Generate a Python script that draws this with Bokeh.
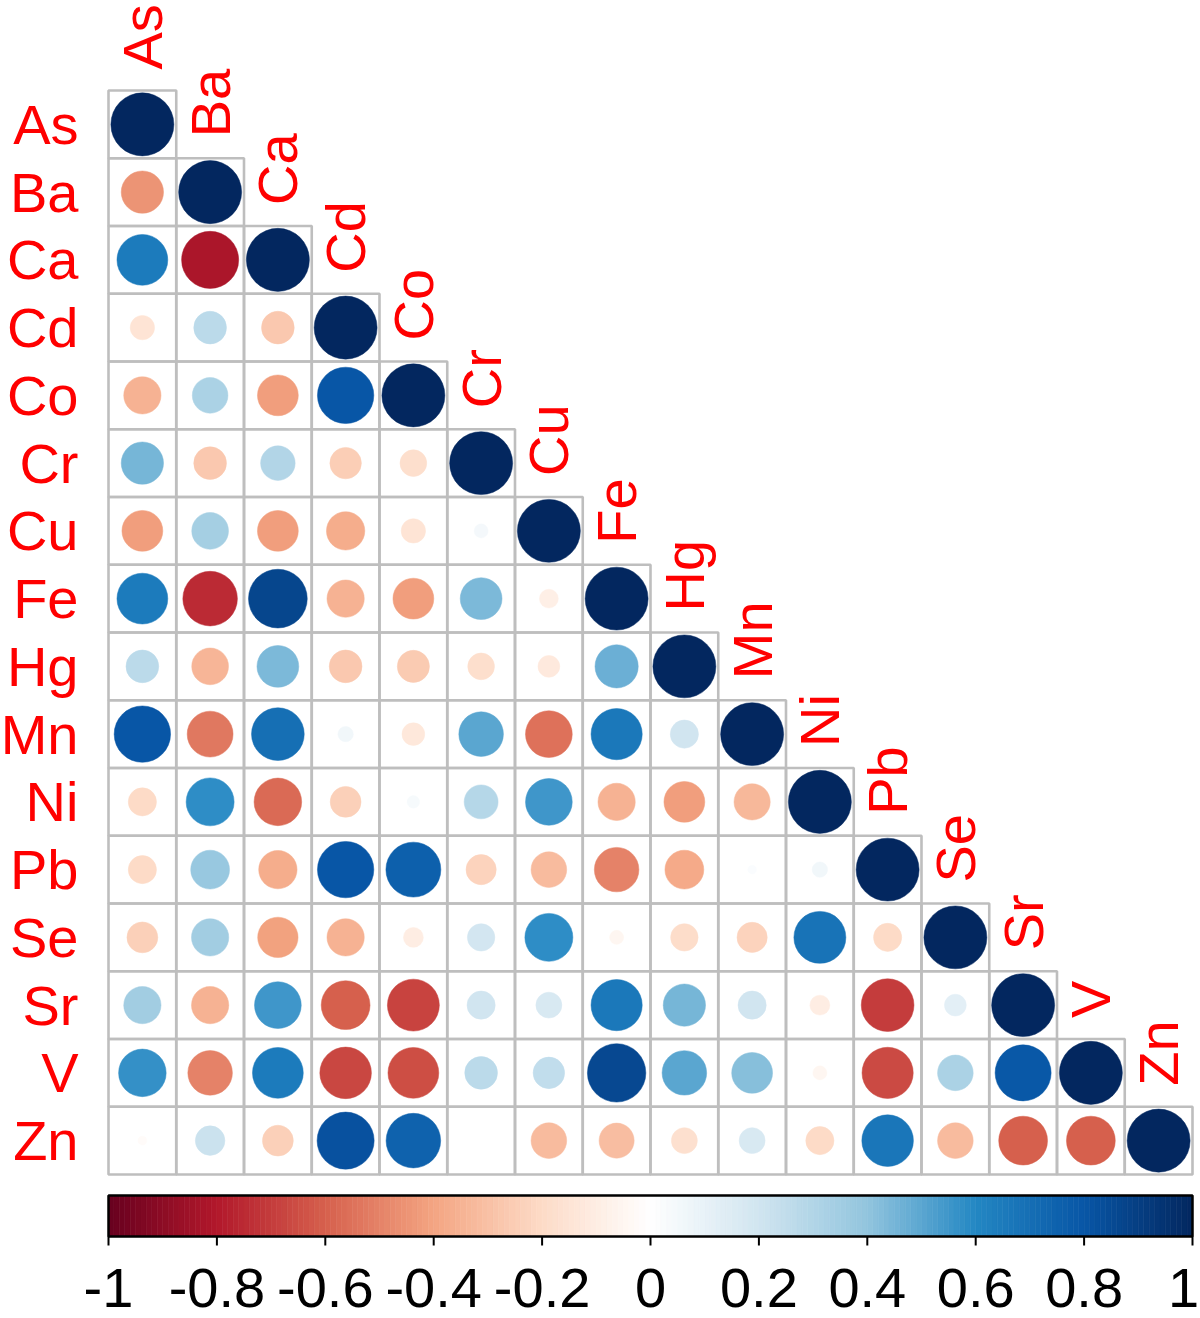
import numpy as np
from bokeh.plotting import figure
from bokeh.models import Range1d
from bokeh.core.properties import value
from bokeh.embed import file_html
from bokeh.resources import INLINE

# ---------------- data ----------------
elements = ["As", "Ba", "Ca", "Cd", "Co", "Cr", "Cu", "Fe",
            "Hg", "Mn", "Ni", "Pb", "Se", "Sr", "V", "Zn"]

# lower-triangle correlations (row element vs. preceding columns)
r_Ba = [-0.45]
r_Ca = [0.65, -0.82]
r_Cd = [-0.15, 0.27, -0.27]
r_Co = [-0.35, 0.32, -0.42, 0.80]
r_Cr = [0.45, -0.27, 0.30, -0.25, -0.18]
r_Cu = [-0.42, 0.34, -0.42, -0.37, -0.15, 0.05]
r_Fe = [0.65, -0.75, 0.87, -0.35, -0.42, 0.44, -0.09]
r_Hg = [0.27, -0.34, 0.44, -0.27, -0.26, -0.18, -0.12, 0.47]
r_Mn = [0.80, -0.53, 0.70, 0.06, -0.13, 0.50, -0.55, 0.66, 0.20]
r_Ni = [-0.20, 0.58, -0.57, -0.24, 0.04, 0.29, 0.55, -0.35, -0.42, -0.33]
r_Pb = [-0.20, 0.38, -0.37, 0.80, 0.76, -0.23, -0.32, -0.50, -0.38, 0.02, 0.06]
r_Se = [-0.24, 0.35, -0.41, -0.35, -0.10, 0.19, 0.58, -0.05, -0.19, -0.23, 0.68, -0.20]
r_Sr = [0.35, -0.35, 0.55, -0.60, -0.68, 0.20, 0.17, 0.66, 0.45, 0.20, -0.10, -0.70, 0.12]
r_V = [0.57, -0.50, 0.65, -0.67, -0.65, 0.27, 0.25, 0.86, 0.50, 0.42, -0.05, -0.66, 0.32, 0.79]
r_Zn = [-0.02, 0.22, -0.24, 0.82, 0.75, 0.00, -0.32, -0.31, -0.17, 0.17, -0.20, 0.67, -0.32, -0.60, -0.60]

lower_rows = [[], r_Ba, r_Ca, r_Cd, r_Co, r_Cr, r_Cu, r_Fe, r_Hg, r_Mn,
              r_Ni, r_Pb, r_Se, r_Sr, r_V, r_Zn]

tick_values = [-1, -0.8, -0.6, -0.4, -0.2, 0, 0.2, 0.4, 0.6, 0.8, 1]
tick_labels = ["-1", "-0.8", "-0.6", "-0.4", "-0.2", "0", "0.2", "0.4", "0.6", "0.8", "1"]

# colour scale stops (value -> colour)
stop_values = [-1.0, -0.8, -0.6, -0.4, -0.2, 0.0, 0.2, 0.4, 0.6, 0.8, 1.0]
stop_colors = ["#67001F", "#B2182B", "#D6604D", "#F4A582", "#FDDBC7", "#FFFFFF",
               "#D1E5F0", "#92C5DE", "#2387C3", "#0856A6", "#03275F"]

# ---------------- helpers ----------------
def hex_to_rgb(h):
    h = h.lstrip("#")
    return [int(h[k:k + 2], 16) for k in (0, 2, 4)]

stop_rgb = np.array([hex_to_rgb(c) for c in stop_colors], dtype=float)

def color_of(v):
    rgb = [np.interp(v, stop_values, stop_rgb[:, k]) for k in range(3)]
    return "#%02x%02x%02x" % tuple(int(round(c)) for c in rgb)

n = len(elements)
corr = np.eye(n)
for i, row in enumerate(lower_rows):
    for j, v in enumerate(row):
        corr[i, j] = v
        corr[j, i] = v

# ---------------- figure ----------------
CELL_PX = 67.75
W, H = 1200, 1318
X0, Y0 = 108, 90   # pixel position of the matrix's top-left corner
p = figure(width=W, height=H, output_backend="svg", toolbar_location=None,
           x_range=Range1d(-X0 / CELL_PX, (W - X0) / CELL_PX),
           y_range=Range1d(-(H - Y0) / CELL_PX, Y0 / CELL_PX),
           x_axis_location=None, y_axis_location=None, min_border=0)
p.grid.visible = False
p.outline_line_color = None
p.background_fill_color = "white"

cx, cy, rad, cols = [], [], [], []
for i in range(n):
    for j in range(i + 1):
        v = corr[i, j]
        cx.append(j + 0.5)
        cy.append(-(i + 0.5))
        rad.append(0.465 * np.sqrt(abs(v)))
        cols.append(color_of(v))

# cell borders
p.rect(x=cx, y=cy, width=1, height=1, fill_color=None,
       line_color="#BEBEBE", line_width=2.6)
# circles
p.circle(x=cx, y=cy, radius=rad, fill_color=cols, line_color=cols,
         line_width=0.5)

label_font = value("Liberation Sans")
# row labels
p.text(x=[-30 / CELL_PX] * n, y=[-(i + 0.5) for i in range(n)], text=elements,
       text_align="right", text_baseline="middle", text_font=label_font,
       text_font_size=value("56px"), text_color="#FF0000")
# column labels (rotated, above diagonal)
p.text(x=[j + 0.5 for j in range(n)], y=[-j + 21 / CELL_PX for j in range(n)], text=elements,
       angle=np.pi / 2, text_align="left", text_baseline="middle", text_font=label_font,
       text_font_size=value("56px"), text_color="#FF0000")

# ---------------- colour bar ----------------
nbins = 200
edges = np.linspace(-1, 1, nbins + 1)
mids = (edges[:-1] + edges[1:]) / 2
bar_left = (edges[:-1] + 1) * n / 2
bar_right = (edges[1:] + 1) * n / 2
bar_cols = [color_of(v) for v in mids]
bar_top = -(1195 - Y0) / CELL_PX
bar_bot = -(1236 - Y0) / CELL_PX
p.quad(left=bar_left, right=bar_right, top=bar_top, bottom=bar_bot,
       fill_color=bar_cols, line_color=bar_cols, line_width=0.6)
p.quad(left=[0], right=[n], top=[bar_top], bottom=[bar_bot],
       fill_color=None, line_color="black", line_width=2.5)

tick_x = [(v + 1) * n / 2 for v in tick_values]
tick_len = 9 / CELL_PX
p.segment(x0=tick_x, x1=tick_x, y0=bar_bot, y1=bar_bot - tick_len,
          line_color="black", line_width=2)
# keep the last label inside the page edge
label_dx = [0] * (len(tick_x) - 1) + [-9]
p.text(x=tick_x, y=[-(1287 - Y0) / CELL_PX] * len(tick_x), text=tick_labels,
       x_offset=label_dx,
       text_align="center", text_baseline="middle", text_font=label_font,
       text_font_size=value("56px"), text_color="black")

open("out.html", "w").write(file_html(p, INLINE))
